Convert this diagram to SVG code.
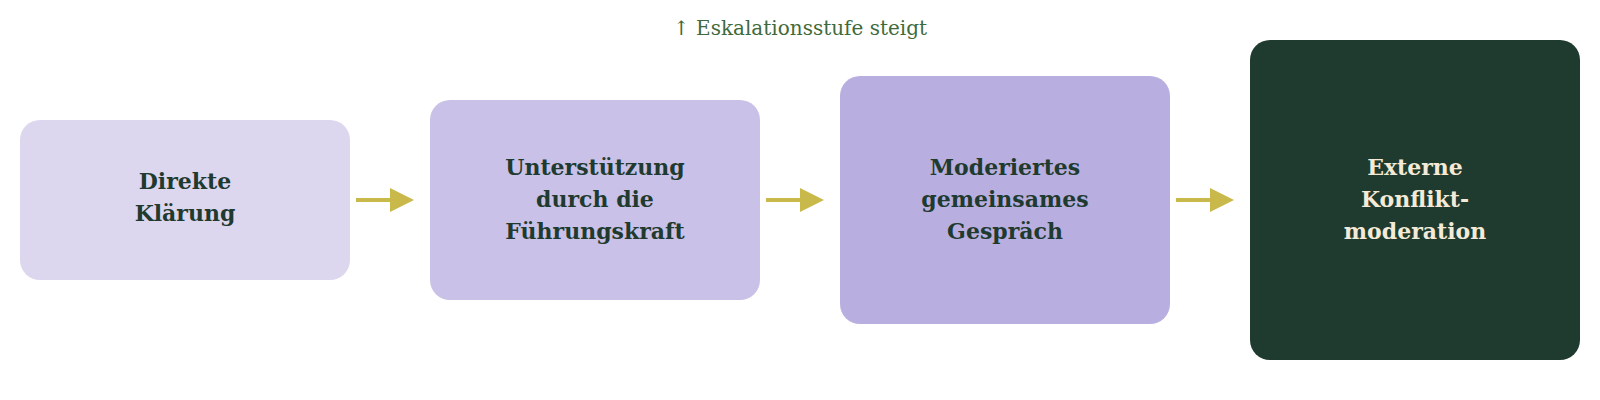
<svg xmlns="http://www.w3.org/2000/svg" width="1600" height="400" viewBox="0 0 1600 400">
<style>
.t{font-family:"DejaVu Serif",serif;font-weight:bold;font-size:22px;text-anchor:middle;fill:#1f3a2f}
.w{fill:#f3ead8}
.c{stroke:#c9b84a;stroke-width:4;fill:none}
</style>
<defs><marker id="a" markerWidth="6" markerHeight="6" refX="5" refY="3" orient="auto" markerUnits="strokeWidth"><path d="M0,0L6,3L0,6z" fill="#c9b84a"/></marker></defs>
<text x="800" y="35" style="font-family:'DejaVu Serif',serif;font-size:20px;fill:#3f6a3b" text-anchor="middle">↑ Eskalationsstufe steigt</text>
<g id="n1"><rect x="20" y="120" width="330" height="160" rx="20" fill="#ddd6ef"/><text class="t" x="185" y="189">Direkte</text><text class="t" x="185" y="221">Klärung</text></g>
<g id="n2"><rect x="430" y="100" width="330" height="200" rx="20" fill="#c9c1e7"/><text class="t" x="595" y="175">Unterstützung</text><text class="t" x="595" y="207">durch die</text><text class="t" x="595" y="239">Führungskraft</text></g>
<g id="n3"><rect x="840" y="76" width="330" height="248" rx="20" fill="#b8afe0"/><text class="t" x="1005" y="175">Moderiertes</text><text class="t" x="1005" y="207">gemeinsames</text><text class="t" x="1005" y="239">Gespräch</text></g>
<g id="n4"><rect x="1250" y="40" width="330" height="320" rx="20" fill="#1f3a2f"/><text class="t w" x="1415" y="175">Externe</text><text class="t w" x="1415" y="207">Konflikt-</text><text class="t w" x="1415" y="239">moderation</text></g>
<g id="connectors">
<line class="c" x1="356" y1="200" x2="410" y2="200" marker-end="url(#a)"/>
<line class="c" x1="766" y1="200" x2="820" y2="200" marker-end="url(#a)"/>
<line class="c" x1="1176" y1="200" x2="1230" y2="200" marker-end="url(#a)"/>
</g>
</svg>
